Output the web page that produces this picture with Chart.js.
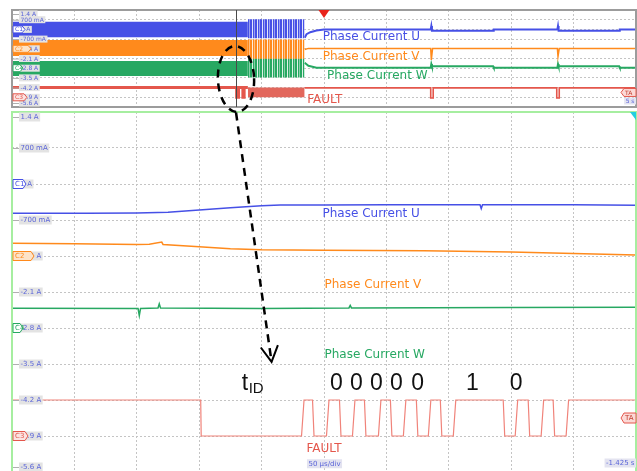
<!DOCTYPE html>
<html>
<head>
<meta charset="utf-8">
<script src="https://cdn.jsdelivr.net/npm/chart.js@4.4.1/dist/chart.umd.min.js"></script>
<style>
  html, body { margin: 0; padding: 0; background: #fff; overflow: hidden; }
  #wrap { position: relative; width: 637px; height: 471px; overflow: hidden; }
  #top { position: absolute; left: 0; top: 0; }
  #main { position: absolute; left: 0; top: 104px; }
  #overlay { position: absolute; left: 0; top: 0; pointer-events: none; }
</style>
</head>
<body>
<div id="wrap">
  <canvas id="top" width="637" height="112"></canvas>
  <canvas id="main" width="637" height="380"></canvas>
  <canvas id="overlay" width="637" height="471"></canvas>
</div>
<script>
// --- vertical scale, shared by both panels (A) ---
const ampTicks = [1.4, 0.7, 0, -0.7, -1.4, -2.1, -2.8, -3.5, -4.2, -4.9, -5.6];
const ampLabels = ['1.4 A', '700 mA', '0 A', '-700 mA', '-1.4 A', '-2.1 A', '-2.8 A', '-3.5 A', '-4.2 A', '-4.9 A', '-5.6 A'];
const seriesNames = ['Phase Current U', 'Phase Current V', 'Phase Current W', 'FAULT'];
const channelTags = ['C1', 'C2', 'C4', 'C3'];
const channelZero = [0, -1.4, -2.8, -4.9];

// --- overview panel (x in divisions) ---
const divTicks = [0, 1, 2, 3, 4, 5, 6, 7, 8, 9, 10];
const ovDenseX = [0, 3.78];
const ovBurstX = [3.78, 4.69];
const ovBandLow = [-0.57, -1.92, -3.36];
const ovBandHigh = [0.56, -0.77, -2.28];
const ovBurstLow = [-0.64, -2.12, -3.48];
const ovBurstHigh = [0.73, -0.72, -2.08];

const ovPostUX = [4.69, 4.72, 4.78, 4.88, 5.0, 6.71, 6.72, 6.73, 7.71, 7.72, 8.74, 8.75, 8.76, 9.73, 9.74, 10];
const ovPostU = [-0.6, -0.35, -0.2, -0.08, 0.0, 0.0, 0.25, -0.09, -0.09, 0.0, 0.0, 0.25, -0.09, -0.09, 0.0, 0.0];
const ovPostVX = [4.69, 4.75, 6.71, 6.72, 6.74, 8.74, 8.75, 8.77, 10];
const ovPostV = [-1.45, -1.37, -1.37, -2.2, -1.37, -1.37, -1.95, -1.37, -1.37];
const ovPostWX = [4.69, 4.75, 4.88, 6.71, 6.72, 6.73, 7.71, 7.72, 8.74, 8.75, 8.76, 9.73, 9.74, 10];
const ovPostW = [-2.4, -2.62, -2.76, -2.76, -2.5, -2.66, -2.66, -2.76, -2.76, -2.5, -2.66, -2.66, -2.76, -2.76];
const ovFaultX = [0, 3.6, 3.6, 3.63, 3.63, 3.7, 3.7, 3.72, 3.72, 3.78];
const ovFault = [-4.2, -4.2, -4.9, -4.9, -4.2, -4.2, -4.9, -4.9, -4.2, -4.2];
const ovFaultBand = [-4.9, -4.2];
const ovFaultPostX = [4.69, 6.71, 6.71, 6.75, 6.75, 8.73, 8.73, 8.77, 8.77, 10];
const ovFaultPost = [-4.22, -4.22, -4.95, -4.95, -4.22, -4.22, -4.95, -4.95, -4.22, -4.22];
const cursorDiv = 3.59;
const triggerDiv = 5.0;
const triggerLevel = -4.55;

// --- zoomed panel (x in µs, 50 µs/div) ---
const timeTicks = [0, 50, 100, 150, 200, 250, 300, 350, 400, 450, 500];
const uTime = [0, 60, 100, 125, 150, 175, 200, 215, 250, 300, 350, 375, 376, 377, 450, 500];
const uAmp = [-0.57, -0.57, -0.565, -0.55, -0.505, -0.46, -0.425, -0.41, -0.41, -0.405, -0.405, -0.405, -0.48, -0.405, -0.405, -0.415];
const vTime = [0, 50, 100, 110, 120, 121, 150, 175, 200, 250, 330, 400, 450, 500];
const vAmp = [-1.153, -1.16, -1.175, -1.17, -1.13, -1.175, -1.22, -1.26, -1.28, -1.29, -1.3, -1.32, -1.35, -1.38];
const wTime = [0, 101, 102, 103, 117, 118, 119, 200, 270, 271, 272, 400, 500];
const wAmp = [-2.415, -2.42, -2.56, -2.42, -2.41, -2.33, -2.41, -2.42, -2.41, -2.36, -2.41, -2.4, -2.395];
const faultTime = [0, 151.2, 151.6, 232, 234, 240.8, 242, 252, 254, 262.4, 263.6, 272.8, 274.8, 282.4, 283.6,
  293.6, 295.6, 303.2, 304.4, 313.6, 315.6, 324, 325.2, 333.6, 335.6, 343.2, 344.4, 353.6, 355.6, 393.6, 394.8,
  403.2, 405.2, 413.6, 414.8, 424, 426, 433.6, 434.8, 444, 446, 500];
const faultAmp = [-4.2, -4.2, -4.9, -4.9, -4.2, -4.2, -4.9, -4.9, -4.2, -4.2, -4.9, -4.9, -4.2, -4.2, -4.9,
  -4.9, -4.2, -4.2, -4.9, -4.9, -4.2, -4.2, -4.9, -4.9, -4.2, -4.2, -4.9, -4.9, -4.2, -4.2, -4.9,
  -4.9, -4.2, -4.2, -4.9, -4.9, -4.2, -4.2, -4.9, -4.9, -4.2, -4.2];
const bitLabels = ['0', '0', '0', '0', '0', '1', '0'];
const bitTime = [260, 276, 292, 308, 325, 369, 404];

const colors = ['#4650e6', '#ff8a1c', '#27a862', '#e4574c'];
const faultThin = '#f0837a';
const labelBlue = '#5a64d8';

const pts = (xs, ys) => xs.map((x, i) => ({ x, y: ys[i] }));

// striped fill for the burst just before the motor stops
function stripes(color) {
  const c = document.createElement('canvas');
  c.width = 5; c.height = 4;
  const g = c.getContext('2d');
  g.fillStyle = color; g.fillRect(0, 0, 5, 4);
  g.fillStyle = 'rgba(255,255,255,0.85)'; g.fillRect(2, 0, 1, 4);
  g.fillStyle = 'rgba(255,255,255,0.45)'; g.fillRect(4, 0, 1, 4);
  return g.createPattern(c, 'repeat');
}

function tagShape(ctx, x, y, w, h, dir) {
  ctx.beginPath();
  if (dir > 0) {
    ctx.moveTo(x, y - h / 2); ctx.lineTo(x + w - 3, y - h / 2); ctx.lineTo(x + w, y);
    ctx.lineTo(x + w - 3, y + h / 2); ctx.lineTo(x, y + h / 2);
  } else {
    ctx.moveTo(x, y); ctx.lineTo(x + 3, y - h / 2); ctx.lineTo(x + w, y - h / 2);
    ctx.lineTo(x + w, y + h / 2); ctx.lineTo(x + 3, y + h / 2);
  }
  ctx.closePath();
}

const scopeDecor = {
  id: 'scopeDecor',
  afterDatasetsDraw(chart, args, o) {
    const { ctx, chartArea: a, scales: { x, y } } = chart;
    ctx.save();
    ctx.strokeStyle = o.frame; ctx.lineWidth = 2;
    ctx.strokeRect(a.left, a.top, a.right - a.left, a.bottom - a.top);

    // amplitude labels on the left edge
    ctx.font = o.tickFont; ctx.textBaseline = 'middle'; ctx.textAlign = 'left';
    ampTicks.forEach((v, i) => {
      let py = y.getPixelForValue(v);
      if (i === 0) py += o.edge;
      if (i === ampTicks.length - 1) py -= o.edge;
      const w = ctx.measureText(ampLabels[i]).width;
      ctx.strokeStyle = '#b0b0b0'; ctx.lineWidth = 1;
      ctx.beginPath(); ctx.moveTo(a.left + 1, py + 0.5); ctx.lineTo(a.left + 7, py + 0.5); ctx.stroke();
      ctx.fillStyle = '#e3e3e3'; ctx.fillRect(a.left + 7, py - o.boxH / 2, w + 3, o.boxH);
      ctx.fillStyle = labelBlue; ctx.fillText(ampLabels[i], a.left + 8.5, py + 0.5);
    });

    // channel zero tags
    ctx.font = o.tagFont;
    channelTags.forEach((t, i) => {
      const py = y.getPixelForValue(channelZero[i]);
      const w = o.tagW[i];
      tagShape(ctx, a.left + 1, py, w, o.boxH, 1);
      ctx.fillStyle = i === 1 ? '#fde3c8' : (i === 3 ? '#fbe3e1' : '#ffffff');
      ctx.fill();
      ctx.strokeStyle = colors[i]; ctx.lineWidth = 1; ctx.stroke();
      ctx.fillStyle = colors[i]; ctx.fillText(t, a.left + 3, py + 0.5);
    });

    // trigger level tag on the right
    const ty = y.getPixelForValue(triggerLevel);
    tagShape(ctx, a.right - 15, ty, 15, o.boxH + 1, -1);
    ctx.fillStyle = '#fbd9d6'; ctx.fill();
    ctx.strokeStyle = colors[3]; ctx.stroke();
    ctx.fillStyle = '#c0392b'; ctx.fillText('TA', a.right - 11, ty + 0.5);

    // trace names
    ctx.font = o.nameFont; ctx.textBaseline = 'middle';
    seriesNames.forEach((n, i) => {
      ctx.fillStyle = colors[i];
      ctx.fillText(n, x.getPixelForValue(o.nameX[i]), y.getPixelForValue(o.nameY[i]));
    });

    // time base / position readout
    ctx.font = o.tickFont;
    const tw = ctx.measureText(o.timeText).width;
    const tby = a.top + o.timeY;
    ctx.fillStyle = '#e3e3f0'; ctx.fillRect(a.right - tw - 3, tby - o.boxH / 2, tw + 3, o.boxH);
    ctx.fillStyle = labelBlue; ctx.fillText(o.timeText, a.right - tw - 1.5, tby + 0.5);
    if (o.extra) o.extra(chart);
    ctx.restore();
  }
};

function gridScale(min, max, ticks) {
  return {
    type: 'linear', min, max,
    afterBuildTicks: s => { s.ticks = ticks.map(v => ({ value: v })); },
    ticks: { display: false },
    grid: { color: '#c4c4c4', lineWidth: 1, drawTicks: false, tickLength: 0 },
    border: { display: false, dash: [2, 2] }
  };
}

const lineDs = (data, color, width) => ({
  data, borderColor: color, borderWidth: width, pointRadius: 0, fill: false, tension: 0
});
const bandDs = (data, fill) => ({
  data, borderWidth: 0, borderColor: 'transparent', pointRadius: 0, fill: '-1', backgroundColor: fill, tension: 0
});
const baseDs = data => ({ data, borderWidth: 0, borderColor: 'transparent', pointRadius: 0, fill: false });

// overview datasets
const ovSets = [];
[0, 1, 2].forEach(i => {
  ovSets.push(baseDs(pts(ovDenseX, [ovBandLow[i], ovBandLow[i]])));
  ovSets.push(bandDs(pts(ovDenseX, [ovBandHigh[i], ovBandHigh[i]]), colors[i]));
  ovSets.push(baseDs(pts(ovBurstX, [ovBurstLow[i], ovBurstLow[i]])));
  ovSets.push(bandDs(pts(ovBurstX, [ovBurstHigh[i], ovBurstHigh[i]]), stripes(colors[i])));
});
ovSets.push(lineDs(pts(ovPostUX, ovPostU), colors[0], 2));
ovSets.push(lineDs(pts(ovPostVX, ovPostV), colors[1], 1.5));
ovSets.push(lineDs(pts(ovPostWX, ovPostW), colors[2], 2));
ovSets.push(lineDs(pts(ovFaultX, ovFault), colors[3], 3));
ovSets.push(baseDs(pts(ovBurstX, [ovFaultBand[0], ovFaultBand[0]])));
ovSets.push(bandDs(pts(ovBurstX, [ovFaultBand[1], ovFaultBand[1]]), '#e2675c'));
ovSets.push(lineDs(pts(ovFaultPostX, ovFaultPost), colors[3], 1.6));

const common = {
  responsive: false, animation: false, events: [],
  plugins: { legend: { display: false }, tooltip: { enabled: false } }
};

const topChart = new Chart(document.getElementById('top'), {
  type: 'line',
  data: { datasets: ovSets },
  options: {
    ...common,
    layout: { padding: { left: 12, right: 1, top: 10, bottom: 5 } },
    scales: { x: gridScale(0, 10, divTicks), y: gridScale(-5.6, 1.4, ampTicks) },
    plugins: {
      ...common.plugins,
      scopeDecor: {
        frame: '#9c9c9c', tickFont: '6px "DejaVu Sans"', tagFont: '6px "DejaVu Sans"', boxH: 7, edge: 4,
        tagW: [12, 18, 10, 14],
        nameFont: '12px "DejaVu Sans"', nameX: [4.98, 4.98, 5.05, 4.73], nameY: [-0.55, -1.99, -3.36, -5.09],
        timeText: '5 s', timeY: 91,
        extra: chart => {
          const { ctx, chartArea: a, scales: { x } } = chart;
          const cx = Math.round(x.getPixelForValue(cursorDiv)) + 0.5;
          ctx.strokeStyle = '#4a4a4a'; ctx.lineWidth = 1;
          ctx.beginPath(); ctx.moveTo(cx, a.top); ctx.lineTo(cx, a.bottom); ctx.stroke();
          const tx = x.getPixelForValue(triggerDiv);
          ctx.fillStyle = '#e8231b';
          ctx.beginPath(); ctx.moveTo(tx - 5.5, a.top); ctx.lineTo(tx + 5.5, a.top); ctx.lineTo(tx, a.top + 8); ctx.closePath(); ctx.fill();
        }
      }
    }
  },
  plugins: [scopeDecor]
});

const mainChart = new Chart(document.getElementById('main'), {
  type: 'line',
  data: {
    datasets: [
      lineDs(pts(uTime, uAmp), colors[0], 1.5),
      lineDs(pts(vTime, vAmp), colors[1], 1.5),
      lineDs(pts(wTime, wAmp), colors[2], 1.5),
      lineDs(pts(faultTime, faultAmp), faultThin, 1.2)
    ]
  },
  options: {
    ...common,
    layout: { padding: { left: 12, right: 1, top: 8, bottom: 12 } },
    scales: { x: gridScale(0, 500, timeTicks), y: gridScale(-5.6, 1.4, ampTicks) },
    plugins: {
      ...common.plugins,
      scopeDecor: {
        frame: '#a6eea0', tickFont: '7px "DejaVu Sans"', tagFont: '7px "DejaVu Sans"', boxH: 9, edge: 5,
        tagW: [13, 21, 10, 15],
        nameFont: '12px "DejaVu Sans"', nameX: [248.8, 250.4, 250.4, 236], nameY: [-0.58, -1.96, -3.33, -5.15],
        timeText: '-1.425 s', timeY: 351,
        extra: chart => {
          const { ctx, chartArea: a, scales: { x, y } } = chart;
          // time/div readout
          ctx.font = '7px "DejaVu Sans"';
          const s = '50 µs/div';
          const w = ctx.measureText(s).width;
          const sx = x.getPixelForValue(250.4) - w / 2, sy = y.getPixelForValue(-5.44);
          ctx.fillStyle = '#e3e3f0'; ctx.fillRect(sx - 1.5, sy - 4.5, w + 3, 9);
          ctx.fillStyle = labelBlue; ctx.fillText(s, sx, sy + 0.5);
          // zoom marker in the top right corner
          ctx.fillStyle = '#22cfe0';
          ctx.beginPath(); ctx.moveTo(a.right - 6, a.top); ctx.lineTo(a.right, a.top); ctx.lineTo(a.right, a.top + 8); ctx.closePath(); ctx.fill();
          // bit annotations
          ctx.fillStyle = '#111';
          ctx.textBaseline = 'alphabetic'; ctx.textAlign = 'center';
          ctx.font = '23px "Liberation Sans"';
          const by = y.getPixelForValue(-4.005);
          bitLabels.forEach((b, i) => ctx.fillText(b, x.getPixelForValue(bitTime[i]), by));
          ctx.textAlign = 'left';
          const t0 = x.getPixelForValue(184);
          ctx.fillText('t', t0, by);
          ctx.font = '15px "Liberation Sans"';
          ctx.fillText('ID', t0 + 7, by + 3.5);
        }
      }
    }
  },
  plugins: [scopeDecor]
});

// dashed ellipse around the fault instant and arrow down to the zoomed view
(() => {
  const ctx = document.getElementById('overlay').getContext('2d');
  const tx = topChart.scales.x, ty = topChart.scales.y;
  const mx = mainChart.scales.x, my = mainChart.scales.y;
  const mainTop = 104;
  const l = tx.getPixelForValue(3.30), r = tx.getPixelForValue(3.88);
  const t = ty.getPixelForValue(-1.2), b = ty.getPixelForValue(-5.96);
  ctx.strokeStyle = '#000'; ctx.lineWidth = 2.5; ctx.setLineDash([8, 6]);
  ctx.beginPath();
  ctx.ellipse((l + r) / 2, (t + b) / 2, (r - l) / 2, (b - t) / 2, -0.04, 0, Math.PI * 2);
  ctx.stroke();
  const x0 = tx.getPixelForValue(cursorDiv), y0 = ty.getPixelForValue(-6.0);
  const x1 = mx.getPixelForValue(208), y1 = my.getPixelForValue(-3.46) + mainTop;
  ctx.beginPath(); ctx.moveTo(x0, y0); ctx.lineTo(x1, y1); ctx.stroke();
  ctx.setLineDash([]); ctx.lineWidth = 2;
  const ang = Math.atan2(y1 - y0, x1 - x0);
  ctx.beginPath();
  ctx.moveTo(x1 - 18 * Math.cos(ang - 0.5), y1 - 18 * Math.sin(ang - 0.5));
  ctx.lineTo(x1, y1);
  ctx.lineTo(x1 - 18 * Math.cos(ang + 0.5), y1 - 18 * Math.sin(ang + 0.5));
  ctx.stroke();
})();
</script>
</body>
</html>
